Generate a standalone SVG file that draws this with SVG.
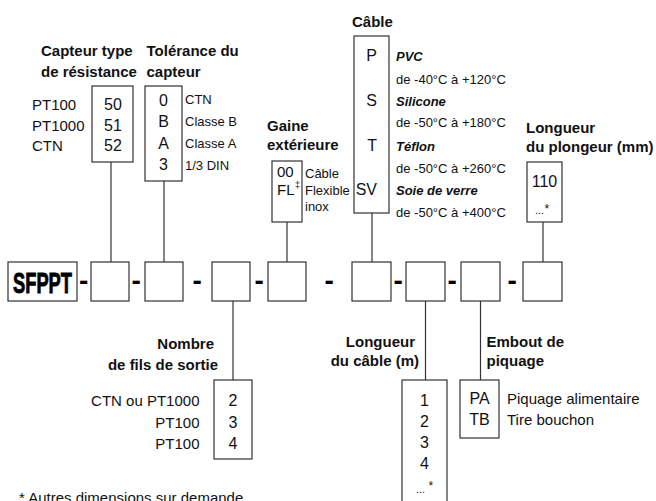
<svg xmlns="http://www.w3.org/2000/svg" width="656" height="501" viewBox="0 0 656 501">
<style>
text{font-family:"Liberation Sans",Arial,sans-serif;fill:#111}
.t{font-size:15px;font-weight:bold}
.l{font-size:15px}
.s{font-size:13px}
.v{font-size:16px;text-anchor:middle}
.bi{font-size:13px;font-weight:bold;font-style:italic}
.box{fill:#fff;stroke:#333;stroke-width:1.2}
.d{font-size:28px;font-weight:bold;fill:#000}
.c line{stroke:#333;stroke-width:1.2}
.end{text-anchor:end}
</style>
<g class="c" id="connectors">
<line x1="111" y1="162" x2="111" y2="262"/>
<line x1="164" y1="181" x2="164" y2="262"/>
<line x1="287" y1="222" x2="287" y2="262"/>
<line x1="372" y1="213" x2="372" y2="262"/>
<line x1="543" y1="222" x2="543" y2="262"/>
<line x1="233" y1="301" x2="233" y2="380"/>
<line x1="425.5" y1="301" x2="425.5" y2="380"/>
<line x1="480.5" y1="301" x2="480.5" y2="380"/>
</g>
<g id="code">
<rect class="box" x="8" y="262" width="69" height="39"/>
<text x="13" y="293" style="font-size:29px;font-weight:bold;fill:#000;stroke:#000;stroke-width:0.9" textLength="59" lengthAdjust="spacingAndGlyphs">SFPPT</text>
<text class="d" x="79" y="290">-</text>
<rect class="box" x="91" y="262" width="38" height="39"/>
<text class="d" x="131.6" y="290">-</text>
<rect class="box" x="145" y="262" width="38" height="39"/>
<text class="d" x="192.6" y="290">-</text>
<rect class="box" x="212" y="262" width="38" height="39"/>
<text class="d" x="254.6" y="290">-</text>
<rect class="box" x="268" y="262" width="38" height="39"/>
<text class="d" x="324.6" y="290">-</text>
<rect class="box" x="352" y="262" width="39" height="39"/>
<text class="d" x="393.6" y="290">-</text>
<rect class="box" x="406" y="262" width="39" height="39"/>
<text class="d" x="447.6" y="290">-</text>
<rect class="box" x="461" y="262" width="39" height="39"/>
<text class="d" x="507.6" y="290">-</text>
<rect class="box" x="523" y="262" width="39" height="39"/>
</g>
<g id="capteur-type">
<text class="t" x="41" y="56">Capteur type</text>
<text class="t" x="41" y="77">de résistance</text>
<rect class="box" x="92" y="86" width="41" height="76"/>
<text class="l" x="32" y="110">PT100</text>
<text class="l" x="32" y="130.5">PT1000</text>
<text class="l" x="32" y="151">CTN</text>
<text class="v" x="113" y="110">50</text>
<text class="v" x="113" y="130.5">51</text>
<text class="v" x="113" y="151">52</text>
</g>
<g id="tolerance">
<text class="t" x="146.5" y="56">Tolérance du</text>
<text class="t" x="146.5" y="77">capteur</text>
<rect class="box" x="145" y="86" width="37" height="95"/>
<text class="v" x="163.5" y="106">0</text>
<text class="v" x="163.5" y="127">B</text>
<text class="v" x="163.5" y="148.5">A</text>
<text class="v" x="163.5" y="170">3</text>
<text class="s" x="185" y="104">CTN</text>
<text class="s" x="185" y="126">Classe B</text>
<text class="s" x="185" y="148">Classe A</text>
<text class="s" x="185" y="170">1/3 DIN</text>
</g>
<g id="gaine">
<text class="t" x="267" y="131">Gaine</text>
<text class="t" x="267" y="150">extérieure</text>
<rect class="box" x="272" y="161" width="30" height="61"/>
<text class="l" x="277" y="177">00</text>
<text class="l" x="277" y="195">FL</text>
<text x="295" y="188" style="font-size:9px">‡</text>
<text class="s" x="305" y="178">Câble</text>
<text class="s" x="305" y="195">Flexible</text>
<text class="s" x="305" y="211">inox</text>
</g>
<g id="cable">
<text class="t" x="352" y="27">Câble</text>
<rect class="box" x="354" y="36" width="35" height="177"/>
<text class="v end" x="377" y="61" style="text-anchor:end">P</text>
<text class="v end" x="377" y="105.5" style="text-anchor:end">S</text>
<text class="v end" x="377" y="151" style="text-anchor:end">T</text>
<text class="v end" x="377" y="195" style="text-anchor:end">SV</text>
<text class="bi" x="396" y="61">PVC</text>
<text class="s" x="396" y="84">de -40°C à +120°C</text>
<text class="bi" x="396" y="105.5">Silicone</text>
<text class="s" x="396" y="127">de -50°C à +180°C</text>
<text class="bi" x="396" y="151">Téflon</text>
<text class="s" x="396" y="173">de -50°C à +260°C</text>
<text class="bi" x="396" y="195">Soie de verre</text>
<text class="s" x="396" y="217">de -50°C à +400°C</text>
</g>
<g id="longueur-plongeur">
<text class="t" x="526" y="133">Longueur</text>
<text class="t" x="526" y="152">du plongeur (mm)</text>
<rect class="box" x="527" y="162" width="35" height="60"/>
<text class="v" x="544.5" y="187">110</text>
<text x="535" y="214" style="font-size:11px">...</text>
<text x="544.5" y="213" style="font-size:12px">*</text>
</g>
<g id="nombre-fils">
<text class="t end" x="214" y="349">Nombre</text>
<text class="t end" x="218" y="370">de fils de sortie</text>
<rect class="box" x="214" y="380" width="38" height="79"/>
<text class="l end" x="199.5" y="405.5">CTN ou PT1000</text>
<text class="l end" x="199.5" y="427.5">PT100</text>
<text class="l end" x="199.5" y="448.5">PT100</text>
<text class="v" x="233" y="405.5">2</text>
<text class="v" x="233" y="427.5">3</text>
<text class="v" x="233" y="448.5">4</text>
</g>
<g id="longueur-cable">
<text class="t end" x="415" y="347">Longueur</text>
<text class="t end" x="419" y="366">du câble (m)</text>
<rect class="box" x="402" y="380" width="45" height="135"/>
<text class="v" x="424.5" y="405.5">1</text>
<text class="v" x="424.5" y="426.5">2</text>
<text class="v" x="424.5" y="447.5">3</text>
<text class="v" x="424.5" y="469">4</text>
<text x="416" y="493" style="font-size:11px">...</text>
<text x="428.5" y="490" style="font-size:12px">*</text>
</g>
<g id="embout">
<text class="t" x="486.5" y="347">Embout de</text>
<text class="t" x="486.5" y="366">piquage</text>
<rect class="box" x="460" y="380" width="39" height="58"/>
<text class="v" x="479.5" y="404">PA</text>
<text class="v" x="479.5" y="424.5">TB</text>
<text class="l" x="507" y="404">Piquage alimentaire</text>
<text class="l" x="507" y="424.5">Tire bouchon</text>
</g>
<g id="note">
<text class="l" x="19" y="503">* Autres dimensions sur demande</text>
</g>
</svg>
